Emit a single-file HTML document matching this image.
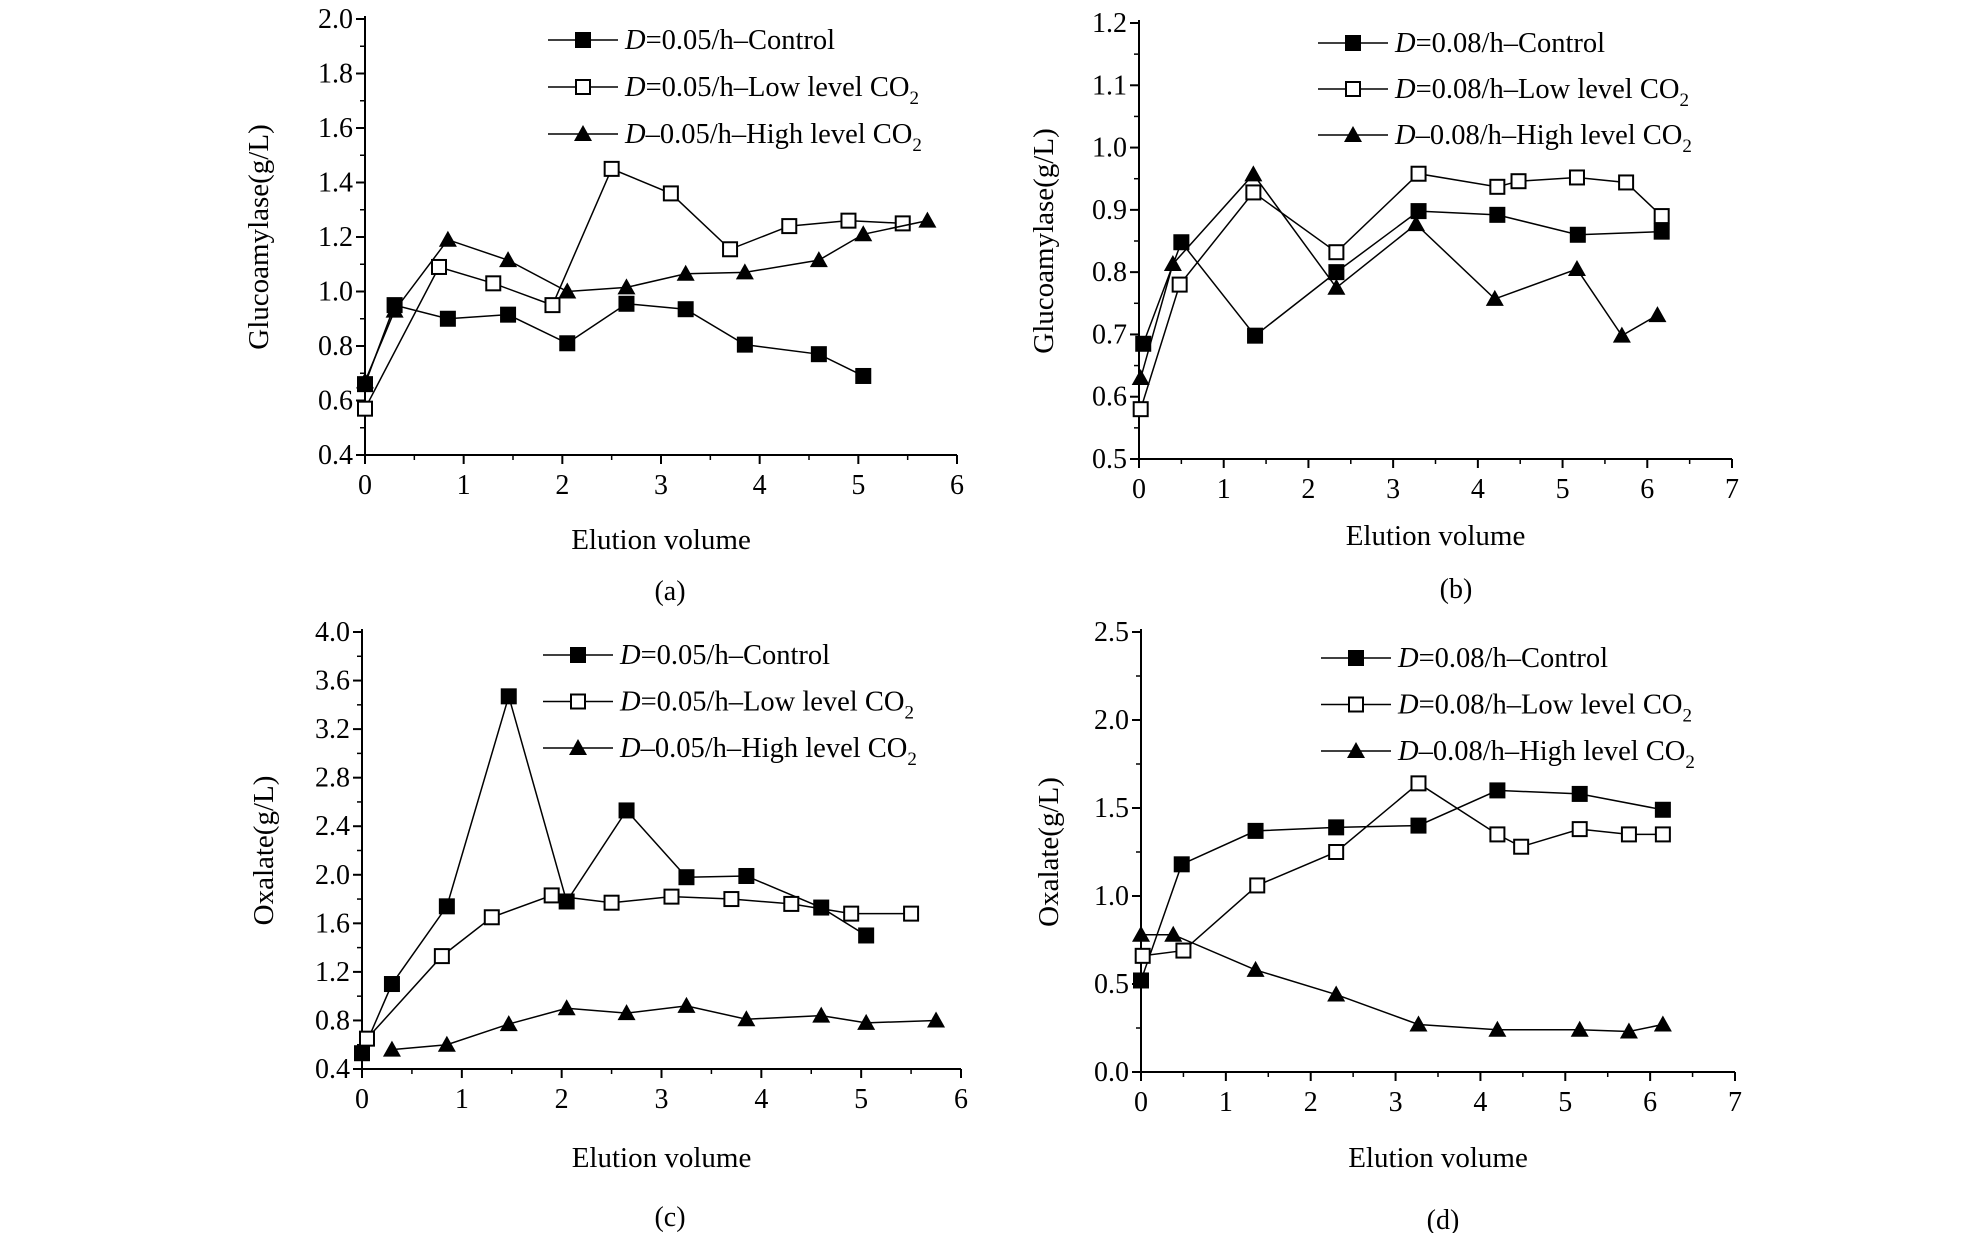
<!DOCTYPE html>
<html><head><meta charset="utf-8"><style>
body{margin:0;background:#fff;}
svg{display:block;font-family:"Liberation Serif",serif;}
</style></head><body>
<svg id="fig" width="1972" height="1233" viewBox="0 0 1972 1233" xmlns="http://www.w3.org/2000/svg"></svg>
<script>
// Panel (a) data
const aCtrlX=[0,0.3,0.84,1.45,2.05,2.65,3.25,3.85,4.6,5.05];
const aCtrlY=[0.66,0.95,0.9,0.915,0.81,0.955,0.935,0.805,0.77,0.69];
const aLowX=[0,0.75,1.3,1.9,2.5,3.1,3.7,4.3,4.9,5.45];
const aLowY=[0.57,1.09,1.03,0.95,1.45,1.36,1.155,1.24,1.26,1.25];
const aHighX=[0,0.3,0.84,1.45,2.05,2.65,3.25,3.85,4.6,5.05,5.7];
const aHighY=[0.67,0.93,1.19,1.115,1.0,1.015,1.065,1.07,1.115,1.21,1.26];
const aXTicks=["0","1","2","3","4","5","6"];
const aYTicks=["0.4","0.6","0.8","1.0","1.2","1.4","1.6","1.8","2.0"];
// Panel (b) data
const bCtrlX=[0.05,0.5,1.37,2.33,3.3,4.23,5.18,6.17];
const bCtrlY=[0.685,0.848,0.698,0.8,0.898,0.892,0.86,0.865];
const bLowX=[0.02,0.48,1.35,2.33,3.3,4.23,4.48,5.17,5.75,6.17];
const bLowY=[0.58,0.78,0.928,0.832,0.958,0.937,0.946,0.952,0.944,0.89];
const bHighX=[0.02,0.4,1.35,2.33,3.27,4.2,5.17,5.7,6.12];
const bHighY=[0.63,0.813,0.957,0.775,0.877,0.757,0.805,0.698,0.731];
const bXTicks=["0","1","2","3","4","5","6","7"];
const bYTicks=["0.5","0.6","0.7","0.8","0.9","1.0","1.1","1.2"];
// Panel (c) data
const cCtrlX=[0,0.3,0.85,1.47,2.05,2.65,3.25,3.85,4.6,5.05];
const cCtrlY=[0.53,1.1,1.74,3.47,1.78,2.53,1.98,1.99,1.73,1.5];
const cLowX=[0.05,0.8,1.3,1.9,2.5,3.1,3.7,4.3,4.9,5.5];
const cLowY=[0.65,1.33,1.65,1.83,1.77,1.82,1.8,1.76,1.68,1.68];
const cHighX=[0.3,0.85,1.47,2.05,2.65,3.25,3.85,4.6,5.05,5.75];
const cHighY=[0.56,0.6,0.77,0.9,0.86,0.92,0.81,0.84,0.78,0.8];
const cXTicks=["0","1","2","3","4","5","6"];
const cYTicks=["0.4","0.8","1.2","1.6","2.0","2.4","2.8","3.2","3.6","4.0"];
// Panel (d) data
const dCtrlX=[0,0.48,1.35,2.3,3.27,4.2,5.17,6.15];
const dCtrlY=[0.52,1.18,1.37,1.39,1.4,1.6,1.58,1.49];
const dLowX=[0.02,0.5,1.37,2.3,3.27,4.2,4.48,5.17,5.75,6.15];
const dLowY=[0.66,0.69,1.06,1.25,1.64,1.35,1.28,1.38,1.35,1.35];
const dHighX=[0,0.38,1.35,2.3,3.27,4.2,5.17,5.75,6.15];
const dHighY=[0.78,0.78,0.58,0.44,0.27,0.24,0.24,0.23,0.27];
const dXTicks=["0","1","2","3","4","5","6","7"];
const dYTicks=["0.0","0.5","1.0","1.5","2.0","2.5"];

const NS="http://www.w3.org/2000/svg";
const svg=document.getElementById('fig');
function mk(tag,attrs,parent){const e=document.createElementNS(NS,tag);for(const k in attrs)e.setAttribute(k,attrs[k]);(parent||svg).appendChild(e);return e;}
function marker(g,type,x,y){
  let e;
  if(type==='tri'){e=mk('polygon',{points:`${x},${y-9} ${x-9},${y+7} ${x+9},${y+7}`,fill:'#000'},g);}
  else{e=mk('rect',{x:x-7,y:y-7,width:14,height:14,fill:type==='filled'?'#000':'#fff',stroke:'#000','stroke-width':2},g);}
  
  
}
function panel(p){
  const g=mk('g',{});
  
  
  const xmin=0,xmax=p.xt.length-1;
  const ymin=parseFloat(p.yt[0]),ymax=parseFloat(p.yt[p.yt.length-1]);
  const sx=v=>p.x0+(v-xmin)/(xmax-xmin)*(p.x1-p.x0);
  const sy=v=>p.y0-(v-ymin)/(ymax-ymin)*(p.y0-p.y1);
  const ax=mk('path',{d:`M${p.x0},${p.y1-3} V${p.y0} H${p.x1}`,stroke:'#000','stroke-width':2,fill:'none'},g);
  
  
  p.xt.forEach((t,i)=>{const x=sx(i);
    mk('line',{x1:x,y1:p.y0,x2:x,y2:p.y0+9,stroke:'#000','stroke-width':2},g);
    if(i<p.xt.length-1){const xm=sx(i+0.5);mk('line',{x1:xm,y1:p.y0,x2:xm,y2:p.y0+5,stroke:'#000','stroke-width':1.5},g);}
    const tx=mk('text',{x:x,y:p.y0+39,'font-size':28,'text-anchor':'middle'},g);tx.textContent=t;
    
    
  });
  p.yt.forEach((t,i)=>{const v=parseFloat(t);const y=sy(v);
    mk('line',{x1:p.x0-9,y1:y,x2:p.x0,y2:y,stroke:'#000','stroke-width':2},g);
    if(i<p.yt.length-1){const ym=sy(v+(parseFloat(p.yt[1])-parseFloat(p.yt[0]))/2);mk('line',{x1:p.x0-5,y1:ym,x2:p.x0,y2:ym,stroke:'#000','stroke-width':1.5},g);}
    const tx=mk('text',{x:p.x0-12,y:y+9,'font-size':28,'text-anchor':'end'},g);tx.textContent=t;
    
    
  });
  const series=[[p.cx,p.cy,'filled','control'],[p.lx,p.ly,'open','low-co2'],[p.hx,p.hy,'tri','high-co2']];
  series.forEach(s=>{
    const pts=s[0].map((v,i)=>sx(v)+','+sy(s[1][i])).join(' ');
    const pl=mk('polyline',{points:pts,fill:'none',stroke:'#000','stroke-width':1.5},g);
    
    
    s[0].forEach((v,i)=>marker(g,s[2],sx(v),sy(s[1][i])));
  });
  const labels=[['=','Control',false,'filled'],['=','Low level CO',true,'open'],['–','High level CO',true,'tri']];
  labels.forEach((l,i)=>{
    const y=p.ly0+i*p.ldy;
    const lg=mk('g',{},g);
    
    
    mk('line',{x1:p.lxs,y1:y,x2:p.lxs+70,y2:y,stroke:'#000','stroke-width':1.5},lg);
    marker(lg,l[3],p.lxs+35,y);
    const t=mk('text',{x:p.lxs+77,y:y+9,'font-size':28.5},lg);
    t.innerHTML=`<tspan font-style="italic">D</tspan>${l[0]}${p.rate}/h–${l[1]}`+(l[2]?'<tspan font-size="19" dy="8">2</tspan>':'');
  });
  const xt=mk('text',{x:(p.x0+p.x1)/2,y:p.xty,'font-size':29,'text-anchor':'middle'},g);xt.textContent='Elution volume';
  
  
  const yt=mk('text',{x:0,y:0,'font-size':29,'text-anchor':'middle',transform:`translate(${p.ytx},${(p.y0+p.y1)/2}) rotate(-90)`},g);yt.textContent=p.ytitle;
  
  
  const cp=mk('text',{x:p.capx,y:p.capy,'font-size':28,'text-anchor':'middle'},g);cp.textContent='('+p.id+')';
  
  
}
panel({id:'a',x0:365,x1:957,y0:455,y1:19,xt:aXTicks,yt:aYTicks,cx:aCtrlX,cy:aCtrlY,lx:aLowX,ly:aLowY,hx:aHighX,hy:aHighY,rate:'0.05',lxs:548,ly0:40,ldy:47,xty:549,ytx:268,ytitle:'Glucoamylase(g/L)',capx:670,capy:600});
panel({id:'b',x0:1139,x1:1732,y0:459,y1:23,xt:bXTicks,yt:bYTicks,cx:bCtrlX,cy:bCtrlY,lx:bLowX,ly:bLowY,hx:bHighX,hy:bHighY,rate:'0.08',lxs:1318,ly0:43,ldy:46,xty:545,ytx:1053,ytitle:'Glucoamylase(g/L)',capx:1456,capy:598});
panel({id:'c',x0:362,x1:961,y0:1069,y1:632,xt:cXTicks,yt:cYTicks,cx:cCtrlX,cy:cCtrlY,lx:cLowX,ly:cLowY,hx:cHighX,hy:cHighY,rate:'0.05',lxs:543,ly0:655,ldy:46.5,xty:1167,ytx:273,ytitle:'Oxalate(g/L)',capx:670,capy:1226});
panel({id:'d',x0:1141,x1:1735,y0:1072,y1:632,xt:dXTicks,yt:dYTicks,cx:dCtrlX,cy:dCtrlY,lx:dLowX,ly:dLowY,hx:dHighX,hy:dHighY,rate:'0.08',lxs:1321,ly0:658,ldy:46.5,xty:1167,ytx:1058,ytitle:'Oxalate(g/L)',capx:1443,capy:1229});
</script>
</body></html>
